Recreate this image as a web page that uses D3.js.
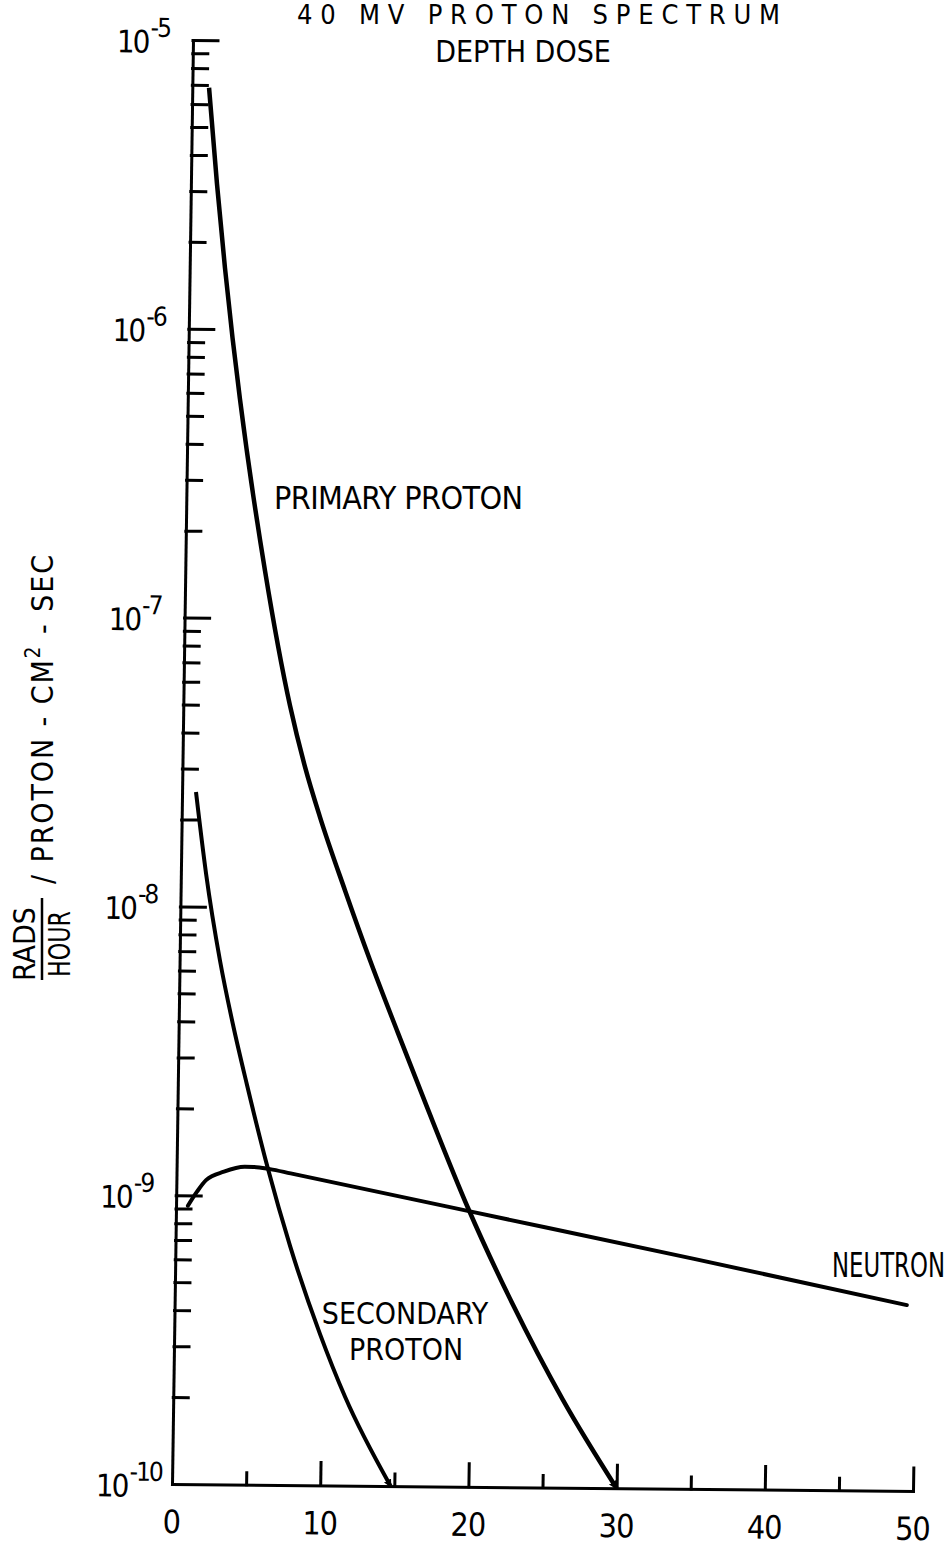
<!doctype html>
<html>
<head>
<meta charset="utf-8">
<style>
  body { margin: 0; background: #fff; }
  text { font-family: "Liberation Sans Narrow", "DejaVu Sans Condensed", "Arial Narrow", sans-serif; fill: #000; }
</style>
</head>
<body>
  <svg id="chart"></svg>
<script src="https://cdn.jsdelivr.net/npm/d3@7"></script>
<script>
// depth (x) and dose rate (y)
const depthPrimary = [1.13, 1.76, 2.38, 2.96, 3.52, 5.38, 7.2, 8.27, 9.33, 11.09, 12.84, 14.8, 16.83, 19.7, 22.83, 26.3, 30];
const dosePrimary = [6.84e-6, 3.18e-6, 1.63e-6, 9.33e-7, 5.74e-7, 1.46e-7, 4.99e-8, 3.07e-8, 2.06e-8, 1.15e-8, 6.62e-9, 3.71e-9, 2.06e-9, 9.23e-10, 4.28e-10, 2.01e-10, 1.0e-10];

const depthSecondary = [0.94, 1.7, 2.73, 3.67, 4.67, 6.17, 7.73, 9.84, 11.59, 14.75];
const doseSecondary = [2.49e-8, 1.3e-8, 6.49e-9, 3.9e-9, 2.42e-9, 1.24e-9, 6.73e-10, 3.34e-10, 2.03e-10, 1.0e-10];

const depthNeutron = [0.8, 1.4, 2.0, 3.2, 4.6, 5.2, 6.3, 7.7, 20, 35, 49.4];
const doseNeutron = [9.2e-10, 1.03e-9, 1.13e-9, 1.21e-9, 1.26e-9, 1.26e-9, 1.24e-9, 1.2e-9, 8.95e-10, 6.26e-10, 4.4e-10];

const xMajor = [10, 20, 30, 40, 50];
const xMinor = [5, 15, 25, 35, 45];
const xTickLabels = ["0", "10", "20", "30", "40", "50"];
const yDecades = [1e-10, 1e-9, 1e-8, 1e-7, 1e-6, 1e-5];
const yExponents = ["-10", "-9", "-8", "-7", "-6", "-5"];

const width = 952, height = 1550;
const svg = d3.select("#chart").attr("width", width).attr("height", height);
svg.append("rect").attr("width", width).attr("height", height).attr("fill", "#fff");

const x = d3.scaleLinear().domain([0, 50]).range([172, 913]);
const y = d3.scaleLog().domain([1e-10, 1e-5]).range([1484, 40]);

// the scan is slightly skewed; mimic with a small affine transform
const skx = (193 - 172) / (40 - 1484);
const sky = 7 / 741;
const plot = svg.append("g")
  .attr("transform", `matrix(1,${sky},${skx},1,${-skx * 1484},${-sky * 172})`);

svg.append("defs").append("marker")
  .attr("id", "arrow")
  .attr("viewBox", "0 0 10 10")
  .attr("refX", 8).attr("refY", 5)
  .attr("markerWidth", 2).attr("markerHeight", 2)
  .attr("orient", "auto")
  .append("path").attr("d", "M0,0L10,5L0,10z").attr("fill", "#000");

// y axis: minor ticks 2..9 and major decade ticks
const yMinor = [];
for (let d = -10; d < -5; d++) for (let k = 2; k <= 9; k++) yMinor.push(k * Math.pow(10, d));

const yAxisMinor = plot.append("g").attr("transform", `translate(${x(0)},0)`)
  .call(d3.axisRight(y).tickValues(yMinor).tickSize(15).tickSizeOuter(0).tickFormat(""));
const yAxisMajor = plot.append("g").attr("transform", `translate(${x(0)},0)`)
  .call(d3.axisRight(y).tickValues(yDecades.slice(1)).tickSize(25).tickSizeOuter(0).tickFormat(""));

const xAxisMinor = plot.append("g").attr("transform", `translate(0,${y(1e-10)})`)
  .call(d3.axisTop(x).tickValues(xMinor).tickSize(12).tickSizeOuter(0).tickFormat(""));
const xAxisMajor = plot.append("g").attr("transform", `translate(0,${y(1e-10)})`)
  .call(d3.axisTop(x).tickValues(xMajor).tickSize(23).tickSizeOuter(0).tickFormat(""));

plot.selectAll(".domain, .tick line")
  .attr("stroke", "#000").attr("stroke-width", 3).attr("stroke-linecap", "square");
yAxisMinor.select(".domain").remove();
xAxisMinor.select(".domain").remove();

// y tick labels 10^n
yDecades.forEach((v, i) => {
  const t = plot.append("text")
    .attr("x", x(0) - 76)
    .attr("y", y(v) + 13)
    .attr("font-size", 31)
    .attr("letter-spacing", -2);
  t.append("tspan").text("10");
  t.append("tspan").attr("font-size", 26).attr("dx", 2).attr("dy", -16).text(yExponents[i]);
});

// x tick labels
xTickLabels.forEach(s => {
  plot.append("text")
    .attr("x", x(+s))
    .attr("y", y(1e-10) + 49)
    .attr("text-anchor", "middle")
    .attr("font-size", 32)
    .attr("letter-spacing", -1)
    .text(s);
});

// curves
const line = d3.line().x(d => x(d[0])).y(d => y(d[1])).curve(d3.curveMonotoneX);

plot.append("path")
  .datum(d3.zip(depthPrimary, dosePrimary))
  .attr("d", line)
  .attr("fill", "none").attr("stroke", "#000").attr("stroke-width", 4.5)
  .attr("marker-end", "url(#arrow)");

plot.append("path")
  .datum(d3.zip(depthSecondary, doseSecondary))
  .attr("d", line)
  .attr("fill", "none").attr("stroke", "#000").attr("stroke-width", 4)
  .attr("marker-end", "url(#arrow)");

plot.append("path")
  .datum(d3.zip(depthNeutron, doseNeutron))
  .attr("d", line)
  .attr("fill", "none").attr("stroke", "#000").attr("stroke-width", 4)
  .attr("stroke-linecap", "round");

// titles
svg.append("text").attr("x", 297).attr("y", 24).attr("font-size", 27)
  .attr("textLength", 483).attr("lengthAdjust", "spacing")
  .text("40 MV PROTON SPECTRUM");
svg.append("text").attr("x", 523).attr("y", 62).attr("font-size", 30)
  .attr("text-anchor", "middle").text("DEPTH DOSE");

// curve labels
svg.append("text").attr("x", 274).attr("y", 509).attr("font-size", 32)
  .attr("textLength", 249).attr("lengthAdjust", "spacing")
  .text("PRIMARY PROTON");
svg.append("text").attr("x", 405).attr("y", 1324).attr("font-size", 30)
  .attr("text-anchor", "middle").text("SECONDARY");
svg.append("text").attr("x", 406).attr("y", 1360).attr("font-size", 30)
  .attr("text-anchor", "middle").text("PROTON");

// condensed neutron label, squeezed to the width seen in the scan
const neutron = svg.append("text").attr("font-size", 34).text("NEUTRON");
const nw = neutron.node().getComputedTextLength();
neutron.attr("transform", `translate(832,1277) scale(${113 / nw},1)`);

// y axis title: RADS/HOUR / PROTON - CM² - SEC
const yt = svg.append("g").attr("transform", "translate(42,944) rotate(-90)");
yt.append("text").attr("x", 0).attr("y", -7).attr("font-size", 30)
  .attr("text-anchor", "middle").text("RADS");
yt.append("text").attr("x", 0).attr("y", 28).attr("font-size", 30)
  .attr("text-anchor", "middle").attr("textLength", 66).attr("lengthAdjust", "spacingAndGlyphs")
  .text("HOUR");
yt.append("line").attr("x1", -36).attr("x2", 46).attr("y1", 0).attr("y2", 0)
  .attr("stroke", "#000").attr("stroke-width", 2.5);
const rest = yt.append("text").attr("x", 60).attr("y", 11).attr("font-size", 30)
  .attr("textLength", 329).attr("lengthAdjust", "spacing");
rest.append("tspan").text("/  PROTON - CM");
rest.append("tspan").attr("font-size", 21).attr("dy", -13).text("2");
rest.append("tspan").attr("dy", 13).text(" - SEC");
</script>
</body>
</html>
